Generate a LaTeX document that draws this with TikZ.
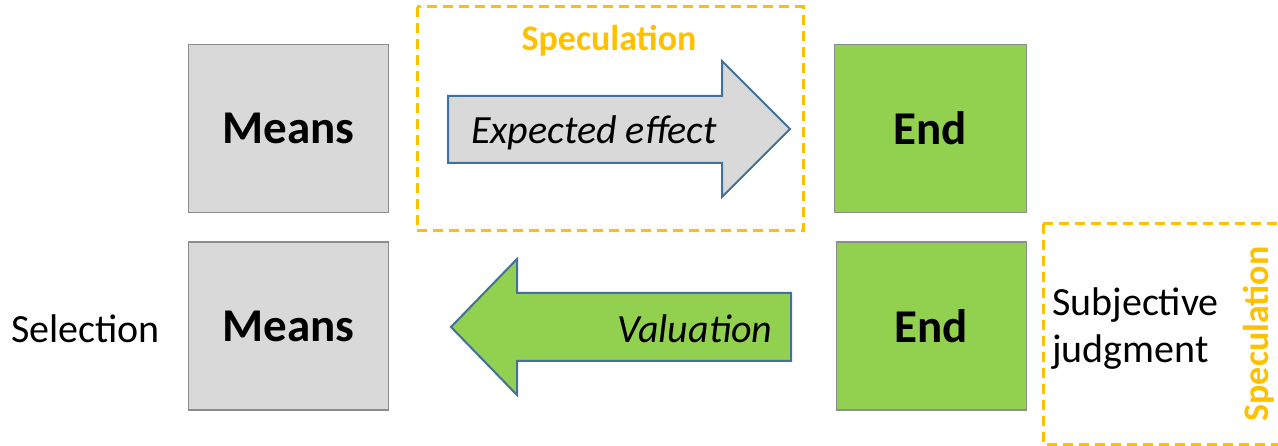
\documentclass[tikz,border=0pt]{standalone}
\usepackage{fontspec}
\setmainfont{Carlito}
\usetikzlibrary{positioning}
\definecolor{boxgray}{HTML}{D9D9D9}
\definecolor{edgegray}{HTML}{8C8C8C}
\definecolor{endgreen}{HTML}{92D050}
\definecolor{arrowblue}{HTML}{41719C}
\definecolor{specorange}{HTML}{FFC000}
\tikzset{>=latex}
\tikzstyle{block} = [rectangle, draw=edgegray, line width=1.5pt, minimum width=200pt, minimum height=168pt, inner sep=0, font=\fontsize{47}{56}\selectfont\bfseries]
\tikzstyle{spec} = [draw=specorange, line width=3pt, dash pattern=on 10pt off 6pt]
\tikzstyle{fat} = [draw=arrowblue, line width=2pt, line join=miter]
\tikzstyle{lbl} = [draw=none, inner sep=0, font=\fontsize{40}{47}\selectfont]

\begin{document}
\begin{tikzpicture}[x=1pt, y=-1pt]
\useasboundingbox (0,0) rectangle (1278,446);
\clip (0,0) rectangle (1278,446);
% speculation frames
\draw [spec] (417,7) rectangle (803,231);
\draw [spec] (1043,224) rectangle (1300,444);
\node [lbl, text=specorange, font=\fontsize{36}{42}\selectfont\bfseries] (S1) at (609,41) {Speculation};
\node [lbl, text=specorange, font=\fontsize{36}{42}\selectfont\bfseries, rotate=90] (S2) at (1259,334) {Speculation};
% top row
\node [block, fill=boxgray] (M1) at (288.5,128.5) {Means};
\node [block, fill=endgreen, minimum width=192pt] (E1) at (930.5,128.5) {End};
\draw [fat, fill=boxgray] (448,96) -- (722,96) -- (722,61) -- (790,129) -- (722,197) -- (722,163) -- (448,163) -- cycle;
\node [lbl, font=\fontsize{40}{47}\selectfont\itshape] (EE) at (594,133) {Expected effect};
% bottom row
\node [block, fill=boxgray] (M2) at (288.5,326) {Means};
\node [block, fill=endgreen, minimum width=190pt] (E2) at (931.5,326) {End};
\draw [fat, fill=endgreen] (791,293) -- (517,293) -- (517,259) -- (451,327) -- (517,395) -- (517,361) -- (791,361) -- cycle;
\node [lbl, font=\fontsize{40}{47}\selectfont\itshape] (V) at (695,329) {Valuation};
\node [lbl, anchor=east] (Sel) at (160,329) {Selection};
\node [lbl, anchor=west, align=left] (SJ) at (1052,329) {Subjective\\judgment};
\end{tikzpicture}
\end{document}
